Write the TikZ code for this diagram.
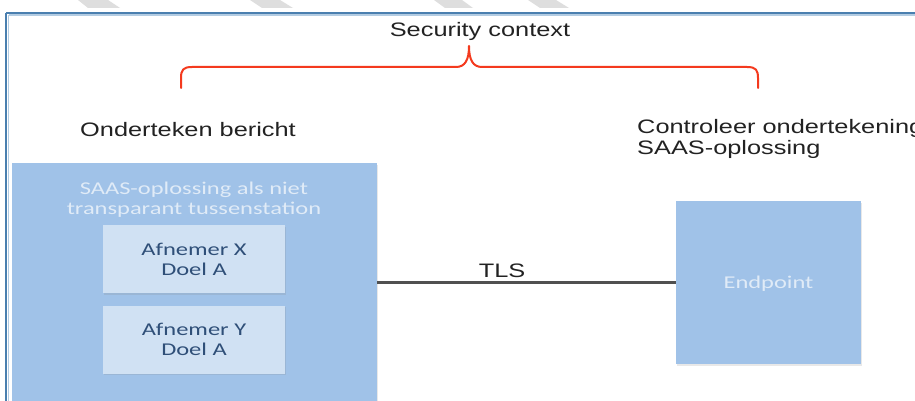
\documentclass[tikz,border=0pt]{standalone}
\usepackage{fontspec}
\usetikzlibrary{shadows}
\newfontfamily\labfont[FakeStretch=1.3]{Liberation Sans}
\newfontfamily\boxfont[FakeStretch=1.36]{Carlito}
\definecolor{frameblue}{HTML}{4A7FAF}
\definecolor{framelight}{HTML}{B3CCE2}
\definecolor{boxblue}{HTML}{A0C2E8}
\definecolor{innerblue}{HTML}{D0E1F3}
\definecolor{innertext}{HTML}{2F4F78}
\definecolor{boxtext}{HTML}{E0EBF7}
\definecolor{bracered}{HTML}{F43A1E}
\definecolor{linkgrey}{HTML}{505050}
\definecolor{labelgrey}{HTML}{222222}
\definecolor{markgrey}{HTML}{DEDEDE}
\begin{document}
\begin{tikzpicture}[x=1pt,y=-1pt,
  label text/.style={font=\labfont\fontsize{19.5}{21}\selectfont, text=labelgrey, inner sep=0pt},
  box text/.style={font=\boxfont\fontsize{18}{20}\selectfont},
  softshadow/.style={drop shadow={opacity=0.18, shadow xshift=1pt, shadow yshift=-1.5pt}},
  bigbox/.style={rectangle, fill=boxblue, inner sep=0pt, softshadow},
  innerbox/.style={rectangle, fill=innerblue, inner sep=0pt, align=center,
    minimum width=182pt, minimum height=68pt, box text, text=innertext, softshadow},
  link/.style={draw=linkgrey, line width=2.4pt},
  brace/.style={draw=bracered, line width=2pt, line cap=round, line join=round},
  topmark/.style={fill=markgrey, draw=none}]
\useasboundingbox (0,0) rectangle (915,401);
\clip (0,0) rectangle (915,401);
\fill[white] (0,0) rectangle (915,401);

% faint slanted marks along the top edge
\fill[topmark] (78,0) -- (108,0) -- (120,8) -- (88,8) -- cycle;
\fill[topmark] (250,0) -- (280,0) -- (293,8) -- (262,8) -- cycle;
\fill[topmark] (434,0) -- (462,0) -- (473,8) -- (445,8) -- cycle;
\fill[topmark] (528,0) -- (556,0) -- (569,8) -- (540,8) -- cycle;

% page frame
\draw[framelight, line width=1.2pt] (8.8,15) -- (915,15);
\draw[framelight, line width=1.2pt] (8.8,15) -- (8.8,401);
\draw[frameblue, line width=1.5pt] (6,13) -- (915,13);
\draw[frameblue, line width=1.5pt] (6,13) -- (6,401);

% heading and brace
\node[label text, anchor=base] (ctx) at (480,36.5) {Security context};
\draw[brace] (181,88) -- (181,78) .. controls (181,70) and (183,67) .. (192,67)
  -- (456,67) .. controls (465,67) and (469,60) .. (469,46)
  .. controls (469,60) and (473,67) .. (482,67)
  -- (747,67) .. controls (756,67) and (758,70) .. (758,78) -- (758,88);

\node[label text, anchor=base west] (sign) at (80,136.5) {Onderteken bericht};
\node[label text, anchor=north west, align=left] (check) at (637,119)
  {Controleer ondertekening\\SAAS-oplossing};

% intermediary with its two clients
\node[bigbox, minimum width=365pt, minimum height=252pt] (saas) at (194.5,289) {};
\node[box text, text=boxtext, align=center, inner sep=0pt] (saastitle) at (194,200)
  {SAAS-oplossing als niet\\transparant tussenstation};
\node[innerbox] (afx) at (194,259) {Afnemer X\\Doel A};
\node[innerbox] (afy) at (194,339.5) {Afnemer Y\\Doel A};

% receiving side
\node[bigbox, minimum width=185pt, minimum height=163pt, box text, text=boxtext,
  text depth=0pt] (endpoint) at (768.5,282.5) {Endpoint};

% TLS link
\draw[link] (endpoint.west -| saas.east) -- (endpoint.west)
  node[pos=0.418, anchor=base, yshift=5pt, label text] (tls) {TLS};
\end{tikzpicture}
\end{document}
